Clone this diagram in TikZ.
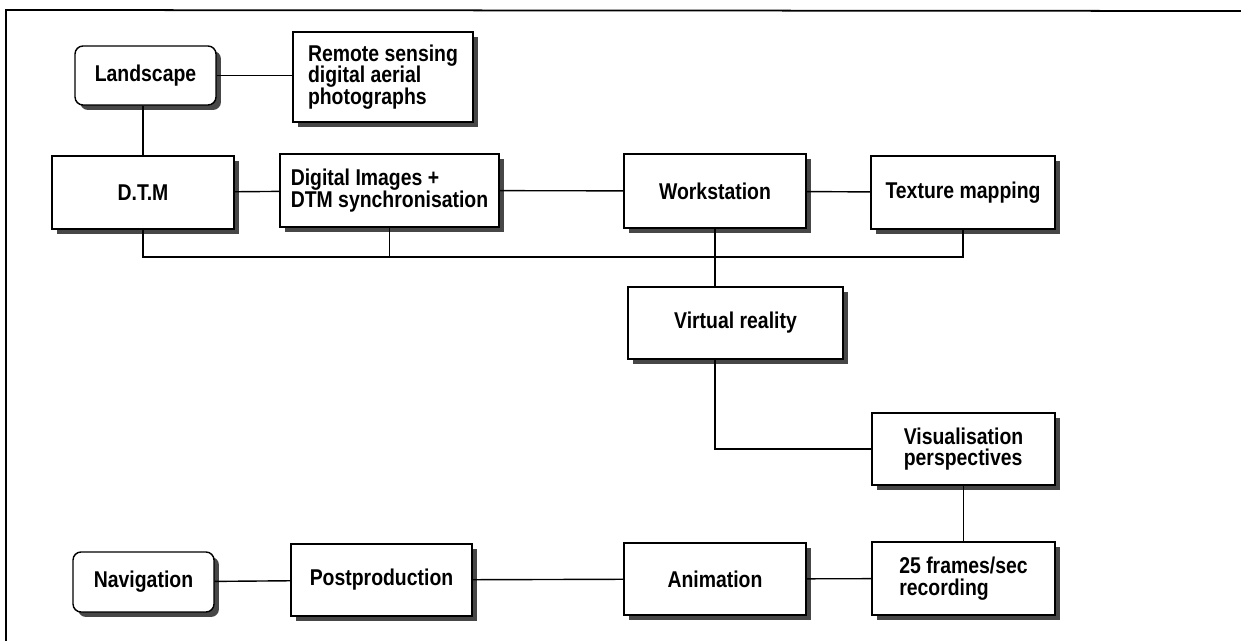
\documentclass[tikz,border=0pt]{standalone}
\usepackage{fontspec}
\setmainfont{Liberation Sans}[FakeStretch=0.85]
\usetikzlibrary{shadows}

\tikzset{
  blk/.style={draw, line width=0.8pt, fill=white, align=left,
    font=\fontsize{13}{12.3}\selectfont\bfseries,
    drop shadow={shadow xshift=0.1cm, shadow yshift=-0.1cm, fill=black!72, opacity=1}},
  rblk/.style={blk, rounded corners=0.16cm},
  link/.style={line width=0.8pt}
}

\begin{document}
\begin{tikzpicture}[x=0.02cm,y=-0.02cm]
\useasboundingbox (0,0) rectangle (1241,641);
% frame
\draw [line width=1pt] (6,641)--(6,10)--(1241,11);

% top part
\node [rblk, minimum width=2.82cm, minimum height=1.18cm] (land) at (145.5,75.5) {Landscape};
\node [blk, minimum width=3.6cm, minimum height=1.8cm] (remote) at (383,77) {Remote sensing\\digital aerial\\photographs};
\node [blk, minimum width=3.64cm, minimum height=1.46cm] (dtm) at (143,192.5) {D.T.M};
\node [blk, minimum width=4.38cm, minimum height=1.46cm] (dig) at (389.5,190.5) {Digital Images +\\DTM synchronisation};
\node [blk, minimum width=3.64cm, minimum height=1.48cm] (ws) at (715,191) {Workstation};
\node [blk, minimum width=3.68cm, minimum height=1.46cm] (tex) at (963,192.5) {Texture mapping};

\node [blk, minimum width=4.3cm, minimum height=1.44cm] (vr) at (735.5,323) {Virtual reality};
\node [blk, minimum width=3.66cm, minimum height=1.44cm] (vis) at (963.5,449) {Visualisation\\perspectives};

% bottom row
\node [blk, minimum width=3.66cm, minimum height=1.46cm] (rec) at (963.5,578.5) {25 frames/sec\\recording};
\node [blk, minimum width=3.64cm, minimum height=1.44cm] (anim) at (715,579) {Animation};
\node [blk, minimum width=3.62cm, minimum height=1.44cm] (post) at (381.5,580) {Postproduction};
\node [rblk, minimum width=2.82cm, minimum height=1.2cm] (nav) at (143.5,582) {Navigation};

\coordinate (bus) at (0,257);

\draw [link] (land.east) -- (land.east -| remote.west);
\draw [link] (dtm.north) -- (dtm.north |- land.south);
\draw [link] (dtm) -- (dig);
\draw [link] (dig) -- (ws);
\draw [link] (ws) -- (tex);
\draw [link] (dtm.south) -- (dtm.south |- bus) -- (tex.south |- bus) -- (tex.south);
\draw [link] (dig.south) -- (dig.south |- bus);
\draw [link] (ws.south) -- (ws.south |- vr.north);
\draw [link] (vr.south -| ws.south) |- (vis.west);
\draw [link] (vis) -- (rec);
\draw [link] (nav) -- (post);
\draw [link] (post) -- (anim);
\draw [link] (anim) -- (rec);
\end{tikzpicture}
\end{document}
